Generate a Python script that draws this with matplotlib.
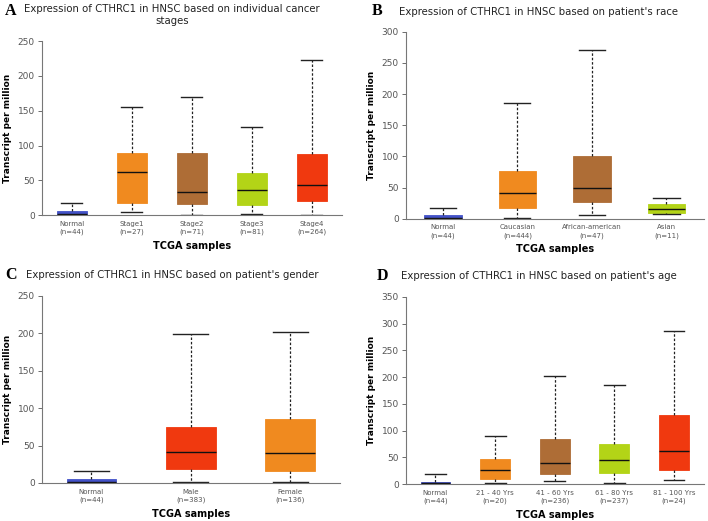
import matplotlib
matplotlib.use('Agg')
import matplotlib.pyplot as plt

plt.rcParams['font.family'] = 'DejaVu Sans'

BLUE = '#4352c8'
ORANGE = '#f08a1f'
BROWN = '#ae6d36'
GREEN = '#b3d417'
RED = '#f0390f'

# ===== Data =====
# A: cancer stages
a_labels = ['Normal\n(n=44)', 'Stage1\n(n=27)', 'Stage2\n(n=71)', 'Stage3\n(n=81)', 'Stage4\n(n=264)']
a_low = [0.3, 4.8, 0.5, 1.4, 0.5]
a_q1 = [0.6, 16.8, 16.0, 15.0, 21.0]
a_med = [1.5, 62.0, 33.5, 36.0, 43.6]
a_q3 = [5.5, 89.0, 89.0, 61.0, 87.6]
a_high = [17.2, 155.0, 170.0, 127.0, 222.5]
a_colors = [BLUE, ORANGE, BROWN, GREEN, RED]

# B: race
b_labels = ['Normal\n(n=44)', 'Caucasian\n(n=444)', 'African-american\n(n=47)', 'Asian\n(n=11)']
b_low = [0.3, 1.6, 5.9, 8.5]
b_q1 = [0.6, 18.0, 26.7, 10.0]
b_med = [1.8, 41.7, 50.0, 15.0]
b_q3 = [5.5, 77.0, 101.0, 24.0]
b_high = [17.0, 186.0, 271.0, 32.6]
b_colors = [BLUE, ORANGE, BROWN, GREEN]

# C: gender
c_labels = ['Normal\n(n=44)', 'Male\n(n=383)', 'Female\n(n=136)']
c_low = [0.3, 1.8, 0.9]
c_q1 = [0.6, 19.2, 16.0]
c_med = [1.5, 41.5, 40.6]
c_q3 = [4.8, 75.0, 85.7]
c_high = [16.5, 198.7, 201.8]
c_colors = [BLUE, RED, ORANGE]

# D: age
d_labels = ['Normal\n(n=44)', '21 - 40 Yrs\n(n=20)', '41 - 60 Yrs\n(n=236)',
            '61 - 80 Yrs\n(n=237)', '81 - 100 Yrs\n(n=24)']
d_low = [0.3, 2.5, 5.0, 1.2, 6.8]
d_q1 = [0.6, 8.7, 18.0, 20.5, 25.5]
d_med = [1.8, 26.8, 39.0, 44.0, 62.3]
d_q3 = [4.5, 46.0, 83.4, 74.7, 129.5]
d_high = [18.0, 89.0, 201.7, 185.6, 287.0]
d_colors = [BLUE, ORANGE, BROWN, GREEN, RED]


def draw_panel(ax, labels, low, q1, med, q3, high, colors, ytop, ystep):
    stats = []
    for i in range(len(labels)):
        stats.append({'whislo': low[i], 'q1': q1[i], 'med': med[i],
                      'q3': q3[i], 'whishi': high[i], 'fliers': []})
    n = len(labels)
    bp = ax.bxp(stats, positions=range(1, n + 1), widths=0.5, patch_artist=True,
                showfliers=False, capwidths=0.35,
                whiskerprops=dict(color='#222222', linestyle=(0, (2, 1.5)), linewidth=0.9),
                capprops=dict(color='#222222', linewidth=1.0),
                medianprops=dict(color='#111111', linewidth=1.0))
    for patch, col in zip(bp['boxes'], colors):
        patch.set_facecolor(col)
        patch.set_edgecolor(col)
        patch.set_linewidth(0.6)
    ax.set_xlim(0.5, n + 0.5)
    ax.set_ylim(0, ytop)
    ax.set_yticks(range(0, ytop + 1, ystep))
    ax.set_xticks(range(1, n + 1))
    ax.set_xticklabels(labels, fontsize=5, color='#555555', linespacing=1.4)
    ax.tick_params(axis='x', length=0, pad=4)
    ax.tick_params(axis='y', labelsize=6.5, colors='#555555', length=3, width=0.6, pad=2)
    for s in ['top', 'right']:
        ax.spines[s].set_visible(False)
    for s in ['left', 'bottom']:
        ax.spines[s].set_color('#777777')
        ax.spines[s].set_linewidth(0.8)
    ax.set_ylabel('Transcript per million', fontsize=6.5, fontweight='bold', labelpad=4)
    ax.set_xlabel('TCGA samples', fontsize=7, fontweight='bold', labelpad=4)


fig = plt.figure(figsize=(7.08, 5.21), dpi=100)

ax_a = fig.add_axes([0.059, 0.587, 0.424, 0.334])
draw_panel(ax_a, a_labels, a_low, a_q1, a_med, a_q3, a_high, a_colors, 250, 50)

ax_b = fig.add_axes([0.573, 0.580, 0.421, 0.359])
draw_panel(ax_b, b_labels, b_low, b_q1, b_med, b_q3, b_high, b_colors, 300, 50)

ax_c = fig.add_axes([0.059, 0.073, 0.421, 0.359])
draw_panel(ax_c, c_labels, c_low, c_q1, c_med, c_q3, c_high, c_colors, 250, 50)

ax_d = fig.add_axes([0.573, 0.071, 0.421, 0.359])
draw_panel(ax_d, d_labels, d_low, d_q1, d_med, d_q3, d_high, d_colors, 350, 50)

# Titles and panel letters
W, H = 708, 521
title_kw = dict(fontsize=7.3, color='#222222', va='center')
letter_kw = dict(fontsize=11.5, fontweight='bold', family='Liberation Serif', va='center')

fig.text(5 / W, 1 - 11 / H, 'A', **letter_kw)
fig.text(172 / W, 1 - 9 / H, 'Expression of CTHRC1 in HNSC based on individual cancer',
         ha='center', **title_kw)
fig.text(172 / W, 1 - 21 / H, 'stages', ha='center', **title_kw)

fig.text(372 / W, 1 - 11 / H, 'B', **letter_kw)
fig.text(399 / W, 1 - 12 / H, "Expression of CTHRC1 in HNSC based on patient's race",
         ha='left', **title_kw)

fig.text(5 / W, 1 - 275 / H, 'C', **letter_kw)
fig.text(26 / W, 1 - 275 / H, "Expression of CTHRC1 in HNSC based on patient's gender",
         ha='left', **title_kw)

fig.text(377 / W, 1 - 276 / H, 'D', **letter_kw)
fig.text(401 / W, 1 - 276 / H, "Expression of CTHRC1 in HNSC based on patient's age",
         ha='left', **title_kw)

plt.savefig('out.png', dpi=100, facecolor='white')
plt.close()
